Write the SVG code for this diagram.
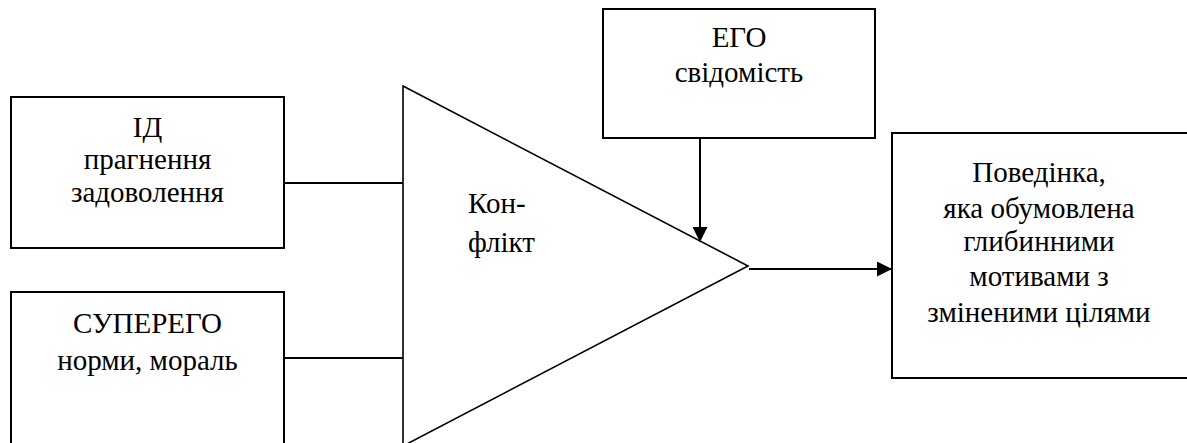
<svg xmlns="http://www.w3.org/2000/svg" width="1187" height="443" viewBox="0 0 1187 443">
<style>
.box{fill:#fff;stroke:#000;stroke-width:2}
.tri{fill:#fff;stroke:#000;stroke-width:1.6}
.con{fill:none;stroke:#000;stroke-width:2}
.t{font-size:29px;fill:#000}
.c{text-anchor:middle}
</style>
<defs>
<marker id="ah2" viewBox="0 0 16 16" refX="16" refY="8" markerWidth="16" markerHeight="15" markerUnits="userSpaceOnUse" orient="auto">
<path d="M0,0 L16,8 L0,16 z" fill="#000"/>
</marker>
</defs>
<g id="id-box" font-family="Liberation Serif, Times New Roman, serif">
<rect class="box" x="11" y="97" width="273" height="151"/>
<text class="t c" x="147.5" y="137">ІД</text>
<text class="t c" x="147.5" y="169">прагнення</text>
<text class="t c" x="147.5" y="202">задоволення</text>
</g>
<g id="superego-box" font-family="Liberation Serif, Times New Roman, serif">
<rect class="box" x="11" y="292" width="273" height="160"/>
<text class="t c" x="147.5" y="333">СУПЕРЕГО</text>
<text class="t c" x="147.5" y="370">норми, мораль</text>
</g>
<g id="ego-box" font-family="Liberation Serif, Times New Roman, serif">
<rect class="box" x="603" y="9" width="272" height="129"/>
<text class="t c" x="739" y="47">ЕГО</text>
<text class="t c" x="739" y="82">свідомість</text>
</g>
<g id="conflict" font-family="Liberation Serif, Times New Roman, serif">
<polygon class="tri" points="403,86 748,266 403,446"/>
<text class="t" x="468" y="213">Кон-</text>
<text class="t" x="468" y="252">флікт</text>
</g>
<g id="behaviour-box" font-family="Liberation Serif, Times New Roman, serif">
<rect class="box" x="892" y="133" width="300" height="245"/>
<text class="t c" x="1039" y="182">Поведінка,</text>
<text class="t c" x="1039" y="218">яка обумовлена</text>
<text class="t c" x="1039" y="251">глибинними</text>
<text class="t c" x="1039" y="286">мотивами з</text>
<text class="t c" x="1039" y="322">зміненими цілями</text>
</g>
<g id="connectors">
<line class="con" x1="284" y1="183" x2="403" y2="183"/>
<line class="con" x1="284" y1="358" x2="403" y2="358"/>
<path class="con" d="M700,138 L700,242" marker-end="url(#ah2)"/>
<path class="con" d="M749,269 L892,269" marker-end="url(#ah2)"/>
</g>
</svg>
